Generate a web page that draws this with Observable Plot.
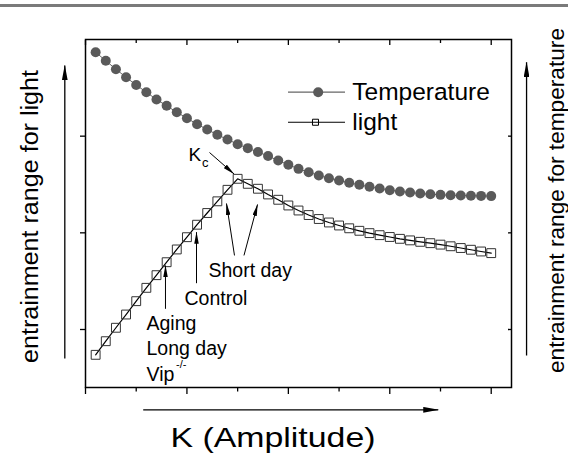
<!DOCTYPE html>
<html>
<head>
<meta charset="utf-8">
<script src="https://cdn.jsdelivr.net/npm/d3@7"></script>
<script src="https://cdn.jsdelivr.net/npm/@observablehq/plot@0.6"></script>
<style>
  html, body { margin: 0; padding: 0; background: #fff; }
  #wrap { position: relative; width: 568px; height: 457px; overflow: hidden; }
  #wrap svg { display: block; }
  #rule { position: absolute; left: 0; top: 4px; width: 568px; height: 2.5px; background: #7a7a7a; }
</style>
</head>
<body>
<div id="wrap"></div>
<script>
// ---- data ----
const K = [0.2,0.4,0.6,0.8,1.0,1.2,1.4,1.6,1.8,2.0,2.2,2.4,2.6,2.8,3.0,3.2,3.4,3.6,3.8,4.0,
           4.2,4.4,4.6,4.8,5.0,5.2,5.4,5.6,5.8,6.0,6.2,6.4,6.6,6.8,7.0,7.2,7.4,7.6,7.8,8.0];
const temperature = [3.469,3.380,3.293,3.209,3.129,3.055,2.979,2.914,2.848,2.786,
                     2.724,2.669,2.614,2.566,2.517,2.476,2.436,2.395,2.348,2.304,
                     2.262,2.227,2.193,2.165,2.141,2.118,2.097,2.076,2.059,2.041,
                     2.028,2.017,2.007,2.000,1.993,1.989,1.986,1.984,1.982,1.980];
const light = [0.338,0.479,0.618,0.755,0.893,1.031,1.162,1.296,1.428,1.555,
               1.684,1.805,1.926,2.045,2.159,2.107,2.056,1.997,1.942,1.883,
               1.831,1.784,1.743,1.707,1.676,1.647,1.621,1.597,1.576,1.557,
               1.538,1.522,1.507,1.493,1.478,1.461,1.443,1.425,1.407,1.390];
const seriesNames = ["Temperature", "light"];
const xMajorTicks = [0, 2, 4, 6, 8];
const xMinorTicks = [1, 3, 5, 7];
const yTicks = [0.6, 1.6, 2.6];

// annotation texts and anchors (data units)
const noteText = ["Short day", "Control", "Aging", "Long day", "Vip"];
const noteX    = [2.425, 1.952, 1.203, 1.203, 1.203];
const noteY    = [1.141, 0.855, 0.590, 0.341, 0.072];
const smallText = ["K", "c", "-/-"];
const smallX    = [2.031, 2.297, 1.785];
const smallY    = [2.348, 2.276, 0.197];
const smallSize = [19, 13, 11];
// annotation arrows: [x1, y1, x2, y2]
const noteArrows = [
  [2.445, 2.431, 2.928, 2.209],
  [2.938, 1.366, 2.780, 1.903],
  [3.125, 1.366, 3.392, 1.893],
  [2.189, 1.079, 2.189, 1.607],
  [1.577, 0.814, 1.577, 1.262]
];
// axis direction arrows
const axisArrows = [
  [-0.408, 0.300, -0.408, 3.331],
  [8.697, 0.331, 8.697, 3.365],
  [1.138, -0.231, 6.955, -0.231]
];
const axisTitles = ["entrainment range for light", "entrainment range for temperature", "K (Amplitude)"];
const axisTitleLengths = [293, 345, 205];
// legend rows
const legendY = [3.055, 2.744];
const legendTextY = [2.979, 2.659];

// ---- build ----
const tempData = K.map((k, i) => ({k, v: temperature[i]}));
const lightData = K.map((k, i) => ({k, v: light[i]}));
const notes = noteText.map((t, i) => ({t, x: noteX[i], y: noteY[i]}));
const smalls = smallText.map((t, i) => ({t, x: smallX[i], y: smallY[i], s: smallSize[i]}));
const toLink = a => ({x1: a[0], y1: a[1], x2: a[2], y2: a[3]});
const legend = seriesNames.map((name, i) => ({name, y: legendY[i], ty: legendTextY[i]}));

const font = "'Liberation Sans', Arial, Helvetica, sans-serif";
const noTick = () => "";

const plot = Plot.plot({
  width: 568, height: 457,
  marginLeft: 85, marginRight: 57, marginTop: 39, marginBottom: 70,
  x: {domain: [0, 8.4]},
  y: {domain: [0, 3.6]},
  style: {fontFamily: font, background: "white", color: "black"},
  marks: [
    Plot.axisX({anchor: "bottom", ticks: xMajorTicks, tickSize: 7, tickFormat: noTick, label: null, strokeWidth: 1.3}),
    Plot.axisX({anchor: "bottom", ticks: xMinorTicks, tickSize: 4.5, tickFormat: noTick, label: null, strokeWidth: 1.3}),
    Plot.axisX({anchor: "top", ticks: xMajorTicks, tickSize: -5, tickFormat: noTick, label: null, strokeWidth: 1.3}),
    Plot.axisX({anchor: "top", ticks: xMinorTicks, tickSize: -3, tickFormat: noTick, label: null, strokeWidth: 1.3}),
    Plot.axisY({anchor: "left", ticks: yTicks, tickSize: 5, tickFormat: noTick, label: null, strokeWidth: 1.3}),
    Plot.axisY({anchor: "right", ticks: yTicks, tickSize: -4, tickFormat: noTick, label: null, strokeWidth: 1.3}),
    Plot.frame({stroke: "#000", strokeWidth: 1.5}),

    // temperature series
    Plot.line(tempData, {x: "k", y: "v", stroke: "#666", strokeWidth: 1}),
    Plot.dot(tempData, {x: "k", y: "v", r: 5, fill: "#5a5a5a", stroke: "none"}),
    // light series
    Plot.line(lightData, {x: "k", y: "v", stroke: "#000", strokeWidth: 1.2}),
    Plot.dot(lightData, {x: "k", y: "v", symbol: "square", r: 5, fill: "none", stroke: "#333", strokeWidth: 1}),

    // legend
    Plot.ruleY(legend, {y: "y", x1: 4.003, x2: 5.127, stroke: (d, i) => i === 0 ? "#666" : "#000", strokeWidth: 1.2}),
    Plot.dot(legend.slice(0, 1), {x: 4.588, y: "y", r: 5, fill: "#5a5a5a"}),
    Plot.dot(legend.slice(1), {x: 4.535, y: "y", r: 3.4, symbol: "square", fill: "none", stroke: "#000", strokeWidth: 1}),
    Plot.text(legend, {x: 5.26, y: "ty", text: "name", textAnchor: "start", lineAnchor: "bottom", fontSize: 24.5, fill: "#000"}),

    // annotations
    Plot.text(notes, {x: "x", y: "y", text: "t", textAnchor: "start", lineAnchor: "bottom", fontSize: 19.5, fill: "#000"}),
    Plot.text(smalls, {x: "x", y: "y", text: "t", textAnchor: "start", lineAnchor: "bottom", fontSize: "s", fill: "#000"}),
    Plot.link(noteArrows.map(toLink), {x1: "x1", y1: "y1", x2: "x2", y2: "y2", stroke: "#000", strokeWidth: 1}),
    Plot.link(axisArrows.map(toLink), {x1: "x1", y1: "y1", x2: "x2", y2: "y2", stroke: "#000", strokeWidth: 1.3}),

    // axis titles
    Plot.text([axisTitles[0]], {frameAnchor: "left", rotate: -90, dx: -47.5, dy: 3, textAnchor: "middle", lineAnchor: "bottom", fontSize: 23, fill: "#000"}),
    Plot.text([axisTitles[1]], {frameAnchor: "right", rotate: -90, dx: 52, dy: -13, textAnchor: "middle", lineAnchor: "bottom", fontSize: 21.5, fill: "#000"}),
    Plot.text([axisTitles[2]], {frameAnchor: "bottom", dx: -25.5, dy: 59, textAnchor: "middle", lineAnchor: "bottom", fontSize: 28.5, fill: "#000"})
  ]
});

const svg = d3.select(plot);
// axis titles are set in a wide face in the reference: stretch them to its lengths
svg.selectAll("text").each(function () {
  const i = axisTitles.indexOf(this.textContent);
  if (i >= 0) {
    this.setAttribute("textLength", axisTitleLengths[i]);
    this.setAttribute("lengthAdjust", "spacingAndGlyphs");
  }
});
// filled arrowheads
const defs = svg.insert("defs", ":first-child");
defs.append("marker")
  .attr("id", "ahead").attr("viewBox", "0 0 12 4.5")
  .attr("refX", 11.5).attr("refY", 2.25)
  .attr("markerWidth", 12).attr("markerHeight", 4.5)
  .attr("orient", "auto").attr("markerUnits", "strokeWidth")
  .append("path").attr("d", "M0,0L12,2.25L0,4.5Z").attr("fill", "#000");
svg.selectAll('g[aria-label="link"] path').attr("marker-end", "url(#ahead)");

const wrap = document.getElementById("wrap");
wrap.appendChild(plot);
const rule = document.createElement("div");
rule.id = "rule";
wrap.appendChild(rule);
</script>
</body>
</html>
